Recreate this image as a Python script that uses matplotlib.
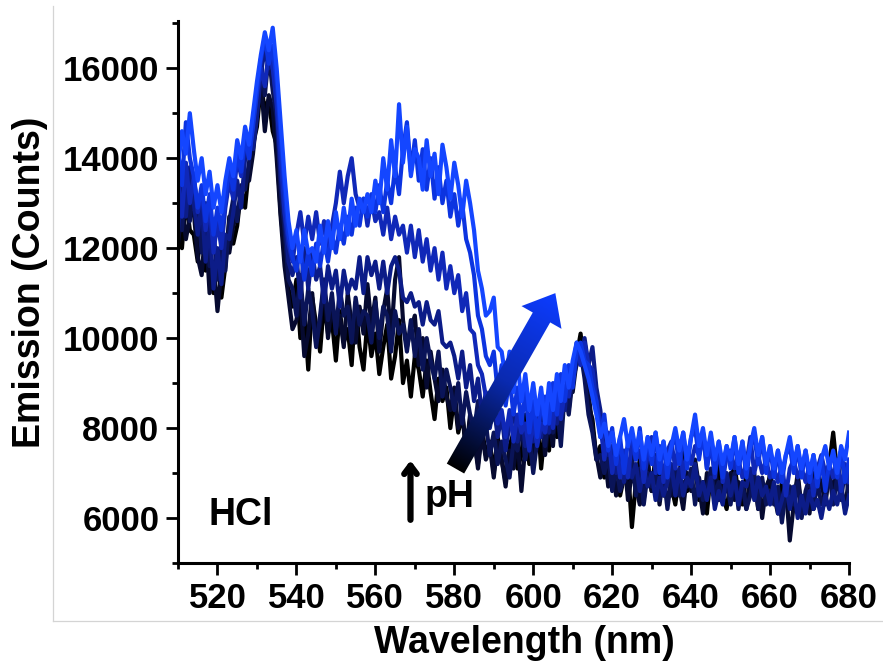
import numpy as np
import matplotlib
matplotlib.use("Agg")
import matplotlib.pyplot as plt
from matplotlib.lines import Line2D
from matplotlib.patches import Polygon
from matplotlib.colors import LinearSegmentedColormap

plt.rcParams['font.family'] = ['Liberation Sans', 'DejaVu Sans']
plt.rcParams['font.weight'] = 'bold'

# wavelength grid (nm), 1 nm steps
wavelength = np.arange(510, 681)

# emission spectra (counts), from low pH (black) to high pH (bright blue)
s1 = [12600, 12000, 13100, 12400, 12300, 11700, 12600, 11500, 12000, 11000,
      11800, 10900, 11600, 12700, 12100, 12500, 13300, 12900, 13800, 14300,
      14700, 15600, 15100, 15300, 14600, 14300, 12800, 11900, 11100, 10700,
      11300, 10000, 10600, 9300, 10900, 10300, 9700, 10800, 10100, 10400,
      9500, 10600, 9900, 10200, 9400, 10800, 9800, 9300, 10400, 9600,
      10100, 9200, 9800, 10300, 9100, 9600, 10400, 9000, 9500, 8700,
      9600, 9300, 8700, 9500, 8800, 8200, 9100, 8600, 8900, 8000,
      8700, 7900, 8300, 7500, 8200, 7700, 7200, 8000, 7400, 7700,
      7000, 7800, 7300, 6800, 7600, 7900, 7100, 7400, 8300, 7200,
      7600, 8400, 7100, 8000, 7500, 8700, 7800, 8200, 8900, 8400,
      9300, 9600, 10100, 9300, 8500, 8200, 7300, 7600, 6900, 7200,
      6700, 7300, 6500, 6900, 7100, 5800, 6800, 7300, 6400, 7200,
      6600, 7400, 6900, 6500, 7200, 6700, 6300, 7000, 7500, 6600,
      6900, 7200, 6400, 6800, 6100, 7000, 6600, 7200, 6500, 6200,
      6800, 7200, 6500, 6300, 7000, 6600, 6900, 6200, 6700, 6400,
      7000, 6500, 6100, 6800, 6400, 6700, 6300, 6900, 6100, 6500,
      6800, 6200, 7100, 6700, 6900, 7200, 7900, 7000, 7500, 6800,
      7200]

s2 = [12100, 12900, 12200, 12700, 12800, 11800, 11400, 12500, 11000, 11700,
      10600, 11500, 12200, 11900, 12500, 12800, 13100, 13700, 13500, 14100,
      15000, 15700, 14600, 15400, 15100, 14000, 12700, 11600, 10900, 10200,
      10400, 10900, 9600, 10100, 11000, 9900, 10300, 11300, 10000, 10800,
      10200, 10500, 9800, 11000, 10300, 9900, 10700, 10100, 11200, 10300,
      10900, 9700, 10600, 11100, 10000, 11300, 11800, 10400, 9800, 10200,
      10500, 9400, 10000, 8900, 9700, 9100, 8600, 9300, 8700, 8400,
      8900, 8000, 8400, 7500, 8300, 7800, 7100, 7900, 7300, 7600,
      6900, 7700, 7300, 6700, 7500, 7100, 7800, 6600, 7600, 8000,
      7300, 7800, 8500, 7400, 8200, 7600, 8800, 8100, 8600, 9100,
      8800, 9500, 9800, 9500, 8800, 8000, 7400, 6900, 7500, 6700,
      7200, 6500, 7000, 7400, 6400, 7000, 6700, 6300, 6900, 7300,
      6600, 7100, 6300, 7000, 7300, 6500, 6900, 6700, 6200, 7000,
      6600, 7300, 6700, 6100, 7000, 6800, 7200, 6400, 6900, 6600,
      7000, 6400, 6800, 6600, 6200, 7000, 6500, 6900, 6000, 6700,
      6900, 6400, 6600, 6100, 6700, 5500, 6300, 7000, 6200, 6500,
      6100, 7000, 6600, 6800, 6300, 7000, 6500, 7300, 6700, 6200,
      6900]

s3 = [13300, 12400, 13700, 12600, 13500, 12900, 11900, 13000, 11600, 12400,
      11300, 12100, 11500, 12600, 13100, 12600, 13400, 13300, 13900, 14700,
      15200, 16200, 15400, 16300, 15500, 14900, 13300, 12400, 11300, 11100,
      10500, 11400, 10300, 11100, 10600, 9800, 10500, 11300, 10400, 11000,
      10100, 11100, 10500, 10700, 9900, 10900, 10300, 10600, 10500, 9900,
      10800, 10000, 10700, 10500, 9700, 10600, 10100, 10300, 9700, 10400,
      9600, 10200, 9300, 10000, 9500, 9100, 9700, 8700, 9300, 8900,
      8400, 9000, 8100, 8800, 8300, 7900, 8600, 7800, 8100, 7400,
      7900, 7200, 7700, 7300, 6900, 7700, 7500, 8100, 7300, 7800,
      7000, 7700, 8300, 7600, 8400, 7900, 8500, 7600, 8800, 8300,
      9100, 9400, 9700, 9100, 8300, 7900, 7300, 7400, 7000, 7400,
      6600, 7200, 6600, 6900, 7000, 7400, 6500, 7100, 6300, 7000,
      6700, 7000, 6400, 7000, 6200, 6900, 7100, 6500, 6800, 6700,
      7100, 6300, 6900, 6400, 6600, 7100, 6500, 6800, 6400, 6800,
      6300, 7000, 6200, 6800, 6200, 6500, 7000, 6200, 6900, 6300,
      6600, 6300, 6700, 5900, 6600, 6700, 6300, 6800, 6000, 6600,
      6900, 6200, 6800, 6300, 6500, 7000, 6300, 6900, 6400, 7100,
      6500]

s4 = [12400, 13500, 12700, 13800, 13000, 12300, 13000, 11700, 12600, 11100,
      12000, 11200, 12300, 12200, 12800, 13500, 12900, 14000, 14300, 14200,
      14900, 15900, 16400, 16000, 16100, 15200, 13600, 12700, 11700, 11400,
      11800, 10900, 12000, 11100, 11900, 11300, 11600, 10800, 11600, 11100,
      11500, 10700, 11500, 11000, 11300, 11100, 11800, 11000, 11800, 11400,
      11700, 11100, 11700, 11000, 11600, 11800, 11500, 10900, 10800, 11000,
      10700, 10800, 10300, 10800, 10400, 10300, 10600, 9900, 9800, 9900,
      9600, 9100, 9700, 8900, 9400, 8600, 9100, 8300, 8800, 8000,
      8500, 7800, 8300, 7500, 8100, 8400, 7700, 8400, 7600, 8300,
      7700, 8500, 7800, 8600, 7900, 8800, 8100, 9000, 8400, 9300,
      9300, 9900, 9500, 10000, 9400, 9800, 8900, 8400, 7600, 7400,
      7600, 7000, 7500, 6800, 7300, 6900, 7200, 6600, 7100, 6700,
      7000, 6400, 6900, 6500, 6800, 7200, 6500, 7100, 6500, 6900,
      6700, 7200, 6500, 6800, 6400, 6900, 6200, 6600, 6300, 7000,
      6500, 6900, 6300, 6800, 6700, 7100, 6400, 6900, 6500, 6700,
      6300, 6800, 6100, 6400, 6800, 6200, 6700, 6000, 6500, 6100,
      6600, 6200, 6400, 6000, 6500, 6200, 6600, 6300, 6700, 6100,
      6500]

s5 = [13500, 12700, 13900, 13000, 13600, 12800, 13300, 12400, 13000, 11900,
      12600, 12000, 12900, 13500, 13100, 14000, 13600, 14400, 14000, 14800,
      15400, 16000, 15600, 16400, 16000, 15200, 14000, 12800, 12100, 11700,
      12300, 12800, 12100, 12700, 12200, 12800, 12100, 12600, 12000, 12500,
      13000, 13700, 13000, 13600, 14000, 13200, 12900, 13100, 12500, 13100,
      12600, 12800, 12300, 12900, 12200, 12700, 12300, 12500, 11900, 12500,
      11800, 12400, 11700, 12200, 11500, 12000, 11300, 11900, 11100, 11600,
      11000, 11400, 10600, 11000, 10200, 10100, 9400, 9200, 8700, 8500,
      8800, 8100, 8400, 7800, 8400, 7700, 8300, 7900, 8100, 7500,
      8200, 7600, 8100, 7900, 8500, 8000, 8900, 8200, 8800, 8700,
      9200, 9800, 9400, 9900, 9400, 9300, 8600, 8100, 7300, 7900,
      7000, 7600, 6900, 7500, 6900, 7700, 7300, 7500, 6800, 7400,
      7800, 7000, 7600, 6800, 7500, 7700, 7100, 7700, 6900, 7500,
      7200, 7600, 7400, 7900, 7100, 7700, 6900, 7600, 6800, 7400,
      7500, 7100, 7300, 6900, 7200, 7800, 7000, 7400, 7000, 7300,
      6900, 7100, 6800, 7200, 6500, 7100, 7300, 6900, 7100, 6800,
      7200, 6500, 7100, 7400, 7000, 7200, 6900, 7300, 6600, 7200,
      6800]

s6 = [14200, 13400, 14800, 14000, 13600, 12900, 13400, 12600, 13200, 12300,
      12900, 12400, 13100, 13800, 13300, 14100, 13700, 14500, 14000, 14700,
      15500, 16200, 16700, 16100, 16500, 15700, 14500, 13300, 12300, 11800,
      11500, 12000, 11300, 11900, 11400, 12100, 11600, 12200, 11700, 12300,
      11900, 12500, 12100, 12700, 12300, 12900, 12500, 13100, 12700, 13200,
      12800, 13400, 12800, 13500, 13000, 13800, 13200, 14200, 14800, 13700,
      14400, 13500, 14200, 13300, 14000, 13100, 13800, 13000, 13500, 12700,
      13200, 12500, 13000, 12200, 11900, 11400, 10500, 10200, 9600, 9400,
      9700, 8800, 9400, 8500, 9100, 8300, 8900, 8100, 8800, 7900,
      8600, 7800, 8500, 8700, 8100, 9000, 8300, 9200, 8600, 9400,
      8900, 9700, 9900, 9500, 9400, 8900, 8600, 7800, 8300, 7500,
      8000, 7200, 7800, 7000, 7700, 7900, 7300, 8000, 7100, 7800,
      7200, 7900, 7000, 7700, 6900, 7600, 7800, 7200, 7900, 7100,
      7800, 8000, 7300, 7900, 7100, 7800, 7000, 7700, 6900, 7600,
      7100, 7800, 7000, 7700, 6900, 7600, 7800, 7200, 7800, 7000,
      7600, 6900, 7500, 6800, 7400, 7600, 7000, 7600, 6900, 7500,
      6800, 7400, 6700, 7300, 6600, 7200, 7400, 6900, 7500, 6800,
      7300]

s7 = [13800, 14600, 14100, 15000, 14200, 13500, 14000, 13200, 13700, 12900,
      13400, 12800, 13500, 14000, 13600, 14400, 14000, 14700, 14300, 15000,
      15700, 16300, 16800, 16400, 16900, 16000, 14800, 13600, 12600, 12000,
      12400, 11700, 12400, 11900, 12000, 11700, 12500, 11900, 12600, 12000,
      12800, 12200, 12900, 12300, 13100, 12500, 13100, 12800, 13200, 12800,
      13500, 13000, 14000, 13300, 14400, 13600, 15200, 13900, 14700, 13600,
      14200, 14000, 13300, 14400, 13600, 14100, 13200, 14300, 13800, 13100,
      13900, 13400, 12700, 13500, 13000, 12400, 11500, 11100, 10500, 10600,
      10900, 9800, 9700, 9100, 9700, 8800, 9500, 8600, 9200, 8400,
      9000, 8300, 8900, 8100, 9000, 8400, 9200, 8600, 9400, 8900,
      9500, 9900, 9700, 9400, 9100, 8700, 8300, 7800, 8100, 7600,
      7900, 7400, 7800, 8200, 7600, 8000, 7500, 7900, 7300, 7800,
      7400, 7900, 7300, 7700, 7200, 7600, 8000, 7500, 7900, 7300,
      7800, 8300, 7600, 8000, 7400, 7900, 7300, 7700, 7200, 7600,
      7300, 7800, 7200, 7700, 7100, 7600, 8000, 7400, 7800, 7200,
      7600, 7100, 7500, 7000, 7400, 7800, 7200, 7600, 7100, 7500,
      7000, 7400, 6900, 7300, 7600, 7100, 7500, 7000, 7600, 7300,
      7900]

spectra = [s1, s2, s3, s4, s5, s6, s7]
colors = ['#000000', '#060a30', '#0a1458', '#0c1c88', '#1028b8', '#0c34e0', '#1446ff']

fig = plt.figure(figsize=(8.83, 6.65), dpi=100)
ax = fig.add_axes([178/883, 102/665, 671/883, 542/665])

for s, c in zip(spectra, colors):
    assert len(s) == len(wavelength)
    ax.plot(wavelength, s, color=c, lw=3)

ax.set_xlim(510, 680)
ax.set_ylim(5000, 17050)
ax.set_xticks(np.arange(520, 681, 20))
ax.set_xticks(np.arange(510, 681, 10), minor=True)
ax.set_yticks(np.arange(6000, 16001, 2000))
ax.set_yticks(np.arange(5000, 17001, 1000), minor=True)

for side in ['top', 'right']:
    ax.spines[side].set_visible(False)
for side in ['left', 'bottom']:
    ax.spines[side].set_linewidth(2.2)
ax.tick_params(which='major', direction='out', length=8.5, width=2.0, labelsize=25, pad=5)
ax.tick_params(which='minor', direction='out', length=4.5, width=2.0)
for lab in ax.get_xticklabels() + ax.get_yticklabels():
    lab.set_fontweight('bold')

ax.set_xlabel('Wavelength (nm)', fontsize=27, fontweight='bold', va='center')
ax.xaxis.set_label_coords((524 - 178) / 671, (563 - 643) / 542)
ax.set_ylabel('Emission (Counts)', fontsize=27, fontweight='bold', va='center')
ax.yaxis.set_label_coords((30 - 178) / 671, (563 - 282) / 542)

ax.text(517.7, 5844, 'HCl', fontsize=27, fontweight='bold', va='baseline', zorder=5)
ax.text(572.4, 6244, 'pH', fontsize=27, fontweight='bold', va='baseline', zorder=5)
ax.annotate('', xy=(568.9, 7280), xytext=(568.9, 5960),
            arrowprops=dict(arrowstyle='->,head_length=0.6,head_width=0.45',
                            lw=4.5, color='black', shrinkA=0, shrinkB=0),
            zorder=5)

# gradient arrow showing increasing pH, drawn in pixel space on an overlay
ov = fig.add_axes([0, 0, 1, 1], facecolor='none')
ov.set_xlim(0, 883)
ov.set_ylim(0, 665)
ov.axis('off')

tail = ax.transData.transform((580.3, 7100))
tip = ax.transData.transform((605.6, 11000))
d = tip - tail
L = np.hypot(*d)
u = d / L
n = np.array([-u[1], u[0]])
hw, hl, hhw = 10, 28, 23
base = tip - u * hl
verts = [tail + n * hw, base + n * hw, base + n * hhw, tip,
         base - n * hhw, base - n * hw, tail - n * hw]
arrow = Polygon(verts, closed=True, facecolor='none', edgecolor='none')
ov.add_patch(arrow)

xs = np.linspace(tail[0] - 40, tip[0] + 40, 200)
ys = np.linspace(tail[1] - 40, tip[1] + 40, 200)
X, Y = np.meshgrid(xs, ys)
proj = ((X - tail[0]) * u[0] + (Y - tail[1]) * u[1]) / L
cmap = LinearSegmentedColormap.from_list('ph', ['#000000', '#0a2ab0', '#0d3cff'])
im = ov.imshow(proj, extent=(xs[0], xs[-1], ys[0], ys[-1]), origin='lower',
               cmap=cmap, vmin=0, vmax=1, aspect='auto', zorder=3)
im.set_clip_path(arrow)
ov.set_xlim(0, 883)
ov.set_ylim(0, 665)

# faint frame lines of the original figure
fig.add_artist(Line2D([53/883, 53/883], [1 - 6/665, 1 - 621/665], color='#d4d4d4', lw=0.9))
fig.add_artist(Line2D([53/883, 1], [1 - 621/665, 1 - 621/665], color='#d4d4d4', lw=0.9))

fig.savefig('out.png', dpi=100)
